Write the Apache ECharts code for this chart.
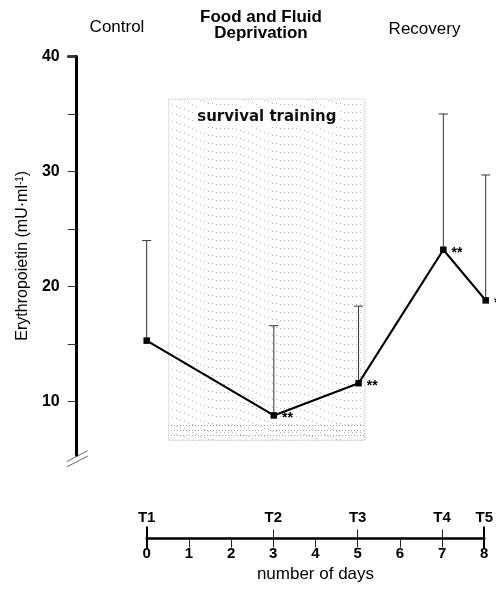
<!DOCTYPE html>
<html>
<head>
<meta charset="utf-8">
<script src="https://cdn.jsdelivr.net/npm/echarts@6/dist/echarts.min.js"></script>
<style>html,body{margin:0;padding:0;background:#fff}#c{width:496px;height:591px}</style>
</head>
<body>
<div id="c"></div>
<script>
// ---- data ----
const days = [0, 3, 5, 7, 8];
const epo = [15.3, 8.8, 11.6, 23.2, 18.8];
const epoUpper = [24.0, 16.6, 18.3, 35.0, 29.7];
const sigMarks = ['', '**', '**', '**', '**'];
const timeLabels = ['T1', 'T2', 'T3', 'T4', 'T5'];
const dayTickValues = [0, 1, 2, 3, 4, 5, 6, 7, 8];
const yLabelValues = [10, 20, 30, 40];
const yTickValues = [10, 15, 20, 25, 30, 35, 40];
const phaseLabels = ['Control', 'Food and Fluid\nDeprivation', 'Recovery'];
const trainingLabel = 'survival training';
const trainingDays = [0.52, 5.15];
const trainingRange = [6.65, 36.3];
const bottomBand = [6.65, 8.3];
const yMin = 5.36, yMax = 40;

const FONT = '"Liberation Sans", Arial, Helvetica, sans-serif';

function makeTexture() {
  const c = document.createElement('canvas');
  c.width = 64; c.height = 32;
  const g = c.getContext('2d');
  g.fillStyle = '#b4b4b4';
  for (let k = 0; k < 4; k++) {
    for (let x = 0; x < 64; x += 4) {
      let y = k * 8 + x * 0.25 + 2.5 * Math.sin(2 * Math.PI * x / 64);
      y = ((Math.round(y) % 32) + 32) % 32;
      g.fillRect(x, y, 1, 1);
    }
  }
  return c;
}
function makeRows() {
  const c = document.createElement('canvas');
  c.width = 3; c.height = 5;
  const g = c.getContext('2d');
  g.fillStyle = '#a8a8a8';
  g.fillRect(0, 0, 1, 1);
  return c;
}

const chart = echarts.init(document.getElementById('c'), null, {renderer: 'canvas'});

const gridLeft = 146.7, gridRight = 10.3, yAxisOffset = 70;

const option = {
  animation: false,
  backgroundColor: '#fff',
  textStyle: {fontFamily: FONT},
  grid: [
    {left: gridLeft, right: gridRight, top: 56.5, height: 398.5},
    {left: gridLeft, right: gridRight, top: 537.5, height: 1}
  ],
  xAxis: [
    {gridIndex: 0, type: 'value', min: 0, max: 8, show: false},
    {gridIndex: 1, type: 'value', min: 0, max: 8, interval: 1, position: 'bottom',
      axisLine: {show: true, onZero: false, lineStyle: {color: '#000', width: 2.5}},
      axisTick: {show: true, length: 9, lineStyle: {color: '#222', width: 1}, customValues: dayTickValues},
      axisLabel: {show: true, margin: 8, fontSize: 15, fontWeight: 'bold', color: '#000', fontFamily: FONT, customValues: dayTickValues},
      splitLine: {show: false},
      name: 'number of days', nameLocation: 'middle', nameGap: 27,
      nameTextStyle: {fontSize: 17, color: '#000', fontFamily: FONT}
    },
    {gridIndex: 1, type: 'value', min: 0, max: 8, interval: 1, position: 'bottom',
      axisLine: {show: false},
      axisTick: {show: true, inside: true, length: 9, lineStyle: {color: '#222', width: 1}, customValues: days},
      axisLabel: {show: true, inside: true, margin: 13, fontSize: 15, fontWeight: 'bold', color: '#000', fontFamily: FONT,
        customValues: days,
        formatter: v => { const i = days.indexOf(v); return i >= 0 ? timeLabels[i] : ''; }},
      splitLine: {show: false}
    },
    {gridIndex: 1, type: 'value', min: 0, max: 8, position: 'bottom',
      axisLine: {show: false},
      axisTick: {show: true, inside: true, length: 12, lineStyle: {color: '#000', width: 2}, customValues: [days[0], days[days.length - 1]]},
      axisLabel: {show: false}, splitLine: {show: false}
    },
    {gridIndex: 1, type: 'value', min: 0, max: 8, position: 'bottom',
      axisLine: {show: false},
      axisTick: {show: true, inside: false, length: 10, lineStyle: {color: '#000', width: 2}, customValues: [days[0], days[days.length - 1]]},
      axisLabel: {show: false}, splitLine: {show: false}
    }
  ],
  yAxis: [
    {gridIndex: 0, type: 'value', min: yMin, max: yMax, offset: yAxisOffset, position: 'left',
      axisLine: {show: true, onZero: false, lineStyle: {color: '#000', width: 3}},
      axisTick: {show: true, length: 9, lineStyle: {color: '#333', width: 1}, customValues: yTickValues},
      axisLabel: {show: true, margin: 17, fontSize: 16, fontWeight: 'bold', color: '#000', fontFamily: FONT, customValues: yLabelValues},
      splitLine: {show: false},
      name: '{a|Erythropoietin (mU·ml}{s|-1}{a|)}', nameLocation: 'middle', nameRotate: 90, nameGap: 40,
      nameTextStyle: {fontSize: 16, color: '#000', fontFamily: FONT,
        rich: {a: {fontSize: 16, color: '#000', fontFamily: FONT}, s: {fontSize: 10, color: '#000', fontFamily: FONT, verticalAlign: 'top', padding: [0, 0, 6, 0]}}}
    },
    {gridIndex: 1, type: 'value', show: false, min: 0, max: 1}
  ],
  graphic: [
    {type: 'text', x: 117, y: 27, style: {text: phaseLabels[0], font: '17px ' + FONT, fill: '#000', align: 'center', verticalAlign: 'middle'}},
    {type: 'text', x: 261, y: 25.5, style: {text: phaseLabels[1], font: 'bold 17px ' + FONT, fill: '#000', align: 'center', verticalAlign: 'middle', lineHeight: 16}},
    {type: 'text', x: 424.5, y: 29.5, style: {text: phaseLabels[2], font: '17px ' + FONT, fill: '#000', align: 'center', verticalAlign: 'middle'}},
    {type: 'line', shape: {x1: 66.7, y1: 461.7, x2: 87.7, y2: 450.7}, style: {stroke: '#666', lineWidth: 1}},
    {type: 'line', shape: {x1: 66.7, y1: 467, x2: 87.7, y2: 456}, style: {stroke: '#666', lineWidth: 1}}
  ],
  series: [
    {
      type: 'custom', xAxisIndex: 0, yAxisIndex: 0, z: 3,
      data: days.map((d, i) => [d, epo[i], epoUpper[i]]),
      renderItem: (params, api) => {
        const p0 = api.coord([api.value(0), api.value(1)]);
        const p1 = api.coord([api.value(0), api.value(2)]);
        const h = 4.5;
        return {type: 'group', children: [
          {type: 'line', shape: {x1: p0[0], y1: p0[1], x2: p1[0], y2: p1[1]}, style: {stroke: '#333', lineWidth: 1}},
          {type: 'line', shape: {x1: p1[0] - h, y1: p1[1], x2: p1[0] + h, y2: p1[1]}, style: {stroke: '#333', lineWidth: 1}}
        ]};
      },
      markArea: {
        silent: true, z: 1,
        data: [
          [{xAxis: trainingDays[0], yAxis: trainingRange[1], name: trainingLabel,
            itemStyle: {color: {image: makeTexture(), repeat: 'repeat'}, borderColor: '#b8b8b8', borderWidth: 1, borderType: 'dotted'}},
           {xAxis: trainingDays[1], yAxis: trainingRange[0]}],
          [{xAxis: trainingDays[0], yAxis: bottomBand[1], name: '',
            itemStyle: {color: {image: makeRows(), repeat: 'repeat'}, borderWidth: 0}},
           {xAxis: trainingDays[1], yAxis: bottomBand[0]}]
        ],
        label: {show: true, position: 'insideTop', distance: 9, fontSize: 15, fontWeight: 'bold', color: '#111',
          fontFamily: '"DejaVu Sans", sans-serif', backgroundColor: '#fff', padding: [2, 3]}
      }
    },
    {
      type: 'line', xAxisIndex: 0, yAxisIndex: 0, z: 5,
      data: days.map((d, i) => [d, epo[i]]),
      symbol: 'rect', symbolSize: 6.5,
      itemStyle: {color: '#000'},
      lineStyle: {color: '#000', width: 2.2},
      label: {show: true, position: 'right', distance: 5, offset: [0, 3], fontSize: 14, fontWeight: 'bold', color: '#000',
        fontFamily: FONT, formatter: p => sigMarks[p.dataIndex]}
    }
  ]
};
chart.setOption(option);

// heavier top tick at the axis maximum, positioned through the axis scale
const topY = chart.convertToPixel({yAxisIndex: 0}, yMax);
const axisX = gridLeft - yAxisOffset;
chart.setOption({graphic: option.graphic.concat([
  {type: 'line', shape: {x1: axisX - 9.5, y1: topY, x2: axisX, y2: topY}, style: {stroke: '#000', lineWidth: 2.5}}
])});
</script>
</body>
</html>
